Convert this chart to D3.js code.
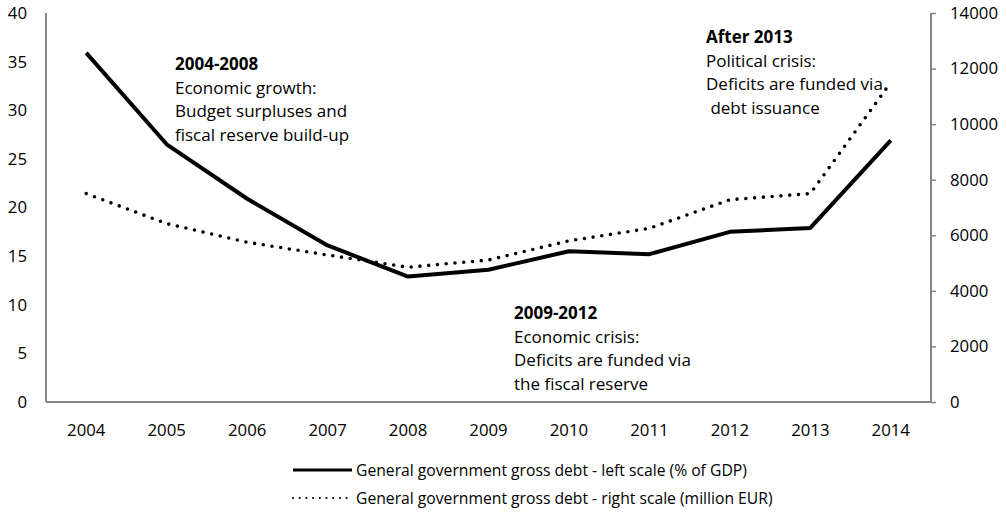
<!DOCTYPE html>
<html>
<head>
<meta charset="utf-8">
<script src="https://cdn.jsdelivr.net/npm/d3@7/dist/d3.min.js"></script>
<style>
  html, body { margin: 0; padding: 0; background: #fff; }
  svg { display: block; font-family: "Open Sans", sans-serif; }
  .tick text { fill: #000; }
</style>
</head>
<body>
<svg id="chart" width="1007" height="514"></svg>
<script>
// Years on the horizontal axis
const years = ["2004","2005","2006","2007","2008","2009","2010","2011","2012","2013","2014"];
// General government gross debt, % of GDP (left scale)
const debtPctGdp = [35.9, 26.5, 20.9, 16.1, 12.9, 13.6, 15.5, 15.2, 17.5, 17.9, 26.9];
// General government gross debt, million EUR (right scale)
const debtMillionEur = [7500, 6420, 5750, 5290, 4850, 5110, 5800, 6250, 7280, 7500, 11500];
// Axis tick values
const leftTicks = [0, 5, 10, 15, 20, 25, 30, 35, 40];
const rightTicks = [0, 2000, 4000, 6000, 8000, 10000, 12000, 14000];

const svg = d3.select("#chart");
const plot = { left: 46, right: 931, top: 13, bottom: 402 };
const axisColor = "#868686";
const tickFont = "16.8px";

const x = d3.scaleBand().domain(years).range([plot.left, plot.right]).padding(0);
const yL = d3.scaleLinear().domain([0, 40]).range([plot.bottom, plot.top]);
const yR = d3.scaleLinear().domain([0, 14000]).range([plot.bottom, plot.top]);
const cx = d => x(d) + x.bandwidth() / 2;

// Left axis: labels only, plain grey spine
const gL = svg.append("g").attr("transform", `translate(${plot.left},0)`)
  .call(d3.axisLeft(yL).tickValues(leftTicks).tickSize(0).tickPadding(19));
gL.select(".domain").attr("stroke", axisColor).attr("stroke-width", 2).attr("d", `M0,${plot.bottom}V${plot.top}`);

// Right axis with short outward ticks
const gR = svg.append("g").attr("transform", `translate(${plot.right},0)`)
  .call(d3.axisRight(yR).tickValues(rightTicks).tickFormat(d3.format("d"))
    .tickSize(5).tickPadding(14).tickSizeOuter(0));
gR.select(".domain").attr("stroke", axisColor).attr("stroke-width", 2).attr("d", `M0,${plot.bottom}V${plot.top}`);
gR.selectAll(".tick line").attr("stroke", axisColor).attr("stroke-width", 1.5);

// Bottom axis: category labels, no ticks
const gX = svg.append("g").attr("transform", `translate(0,${plot.bottom})`)
  .call(d3.axisBottom(x).tickSize(0).tickPadding(22));
gX.select(".domain").attr("stroke", axisColor).attr("stroke-width", 2).attr("d", `M${plot.left},0H${plot.right}`);
svg.selectAll(".tick text").attr("font-family", "'Open Sans', sans-serif").style("font-size", tickFont);

// Series lines
const lineL = d3.line().x((d, i) => cx(years[i])).y(d => yL(d));
const lineR = d3.line().x((d, i) => cx(years[i])).y(d => yR(d));

svg.append("path").datum(debtMillionEur)
  .attr("d", lineR).attr("fill", "none").attr("stroke", "#000")
  .attr("stroke-width", 3.6).attr("stroke-linecap", "round")
  .attr("stroke-dasharray", "0 8.8");

svg.append("path").datum(debtPctGdp)
  .attr("d", lineL).attr("fill", "none").attr("stroke", "#000")
  .attr("stroke-width", 4).attr("stroke-linejoin", "round");

// Period annotations
const notes = [
  { x: 175, y: 70, lines: ["2004-2008", "Economic growth:", "Budget surpluses and", "fiscal reserve build-up"] },
  { x: 514, y: 319, lines: ["2009-2012", "Economic crisis:", "Deficits are funded via", "the fiscal reserve"] },
  { x: 706, y: 43, lines: ["After 2013", "Political crisis:", "Deficits are funded via", "\u00a0debt issuance"] }
];
notes.forEach(n => {
  const t = svg.append("text").attr("x", n.x).attr("y", n.y).style("font-size", "17px");
  n.lines.forEach((s, i) => {
    t.append("tspan").attr("x", n.x).attr("y", n.y + i * 23.6)
      .attr("font-weight", i === 0 ? "bold" : "normal").text(s);
  });
});

// Legend
const legend = [
  { label: "General government gross debt - left scale (% of GDP)", dotted: false, y: 470 },
  { label: "General government gross debt - right scale (million EUR)", dotted: true, y: 498 }
];
legend.forEach(l => {
  const ln = svg.append("line").attr("x1", 293).attr("x2", 352).attr("y1", l.y).attr("y2", l.y)
    .attr("stroke", "#000");
  if (l.dotted) ln.attr("stroke-width", 2.2).attr("stroke-linecap", "round").attr("stroke-dasharray", "0 6.7");
  else ln.attr("stroke-width", 3);
  svg.append("text").attr("x", 356).attr("y", l.y + 5.5).style("font-size", "15.7px").text(l.label);
});
</script>
</body>
</html>
